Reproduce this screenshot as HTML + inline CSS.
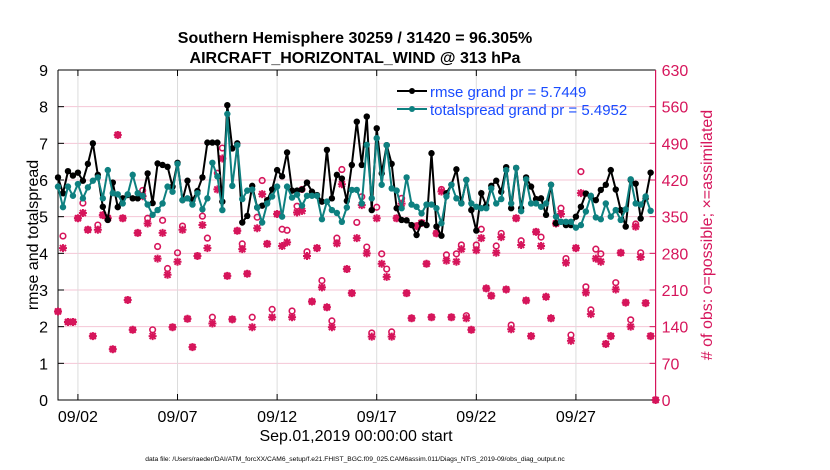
<!DOCTYPE html>
<html><head><meta charset="utf-8"><style>
html,body{margin:0;padding:0;background:#fff;}
svg{display:block;font-family:"Liberation Sans",Arial,sans-serif;}
</style></head><body>
<svg id="chart" width="830" height="470" viewBox="0 0 830 470">
<g id="grid"></g>
<g id="axes"></g>
<g id="obs"></g>
<g id="lines"></g>
<text x="355" y="43" text-anchor="middle" font-size="16" font-weight="bold">Southern Hemisphere 30259 / 31420 = 96.305%</text>
<text x="355" y="63" text-anchor="middle" font-size="16" font-weight="bold">AIRCRAFT_HORIZONTAL_WIND @ 313 hPa</text>
<text transform="translate(38,235) rotate(-90)" text-anchor="middle" font-size="16">rmse and totalspread</text>
<text transform="translate(712,235) rotate(-90)" text-anchor="middle" font-size="16" fill="#d6155b"># of obs: o=possible; ×=assimilated</text>
<text x="356" y="441" text-anchor="middle" font-size="16">Sep.01,2019 00:00:00 start</text>
<text x="355" y="461" text-anchor="middle" font-size="6.7">data file: /Users/raeder/DAI/ATM_forcXX/CAM6_setup/f.e21.FHIST_BGC.f09_025.CAM6assim.011/Diags_NTrS_2019-09/obs_diag_output.nc</text>
<g>
<line x1="397" y1="91" x2="427" y2="91" stroke="#000" stroke-width="2"/>
<circle cx="412" cy="91" r="3" fill="#000"/>
<text x="430" y="97" font-size="15" fill="#1a4cff">rmse grand pr = 5.7449</text>
<line x1="397" y1="109" x2="427" y2="109" stroke="#0e8080" stroke-width="2"/>
<circle cx="412" cy="109" r="3" fill="#0e8080"/>
<text x="430" y="115" font-size="15" fill="#1a4cff">totalspread grand pr = 5.4952</text>
</g>
</svg>
<script>
const rmse=[6.07,5.64,6.24,6.12,6.2,5.98,6.44,7.0,6.14,5.27,4.91,5.93,5.26,5.5,5.59,5.5,5.5,5.57,6.18,5.37,6.45,6.41,6.36,5.82,6.47,5.45,5.98,5.45,5.7,6.07,
7.02,7.02,7.02,5.41,8.04,6.86,7.0,4.84,5.02,5.84,5.25,5.3,5.45,5.74,6.27,6.1,6.75,5.71,5.71,5.74,5.93,5.68,5.59,5.41,6.82,5.5,6.14,6.04,5.43,6.41,
7.59,6.41,7.73,5.18,7.41,6.18,6.95,6.44,5.23,4.91,4.9,4.77,4.5,4.82,4.77,6.73,4.73,4.48,5.64,5.87,6.29,5.37,6.0,5.18,4.62,5.64,5.3,5.84,5.98,5.68,
6.35,5.23,6.33,5.23,6.07,5.82,5.48,5.5,5.05,5.87,4.82,4.86,4.77,4.77,5.0,5.27,5.63,5.55,5.45,5.73,5.87,6.27,5.74,5.18,4.73,6.0,5.9,4.95,5.5,6.2];
const spread=[5.82,5.26,5.82,5.57,5.89,5.5,5.8,5.98,6.07,5.5,6.27,5.64,5.61,5.36,5.61,6.14,5.64,5.57,5.33,5.05,5.18,5.36,5.82,5.68,6.44,5.45,5.5,5.33,5.64,5.2,
5.5,6.47,6.1,5.18,7.8,5.84,6.95,5.48,5.71,5.74,5.25,4.84,5.36,5.55,5.82,5.0,5.82,5.52,5.6,5.3,5.57,5.57,5.57,4.93,5.41,5.18,5.1,4.86,5.25,5.73,
5.73,5.36,6.96,5.5,7.14,5.87,6.95,5.77,5.71,5.23,6.07,5.33,5.27,5.09,5.33,5.33,5.23,4.82,5.55,5.87,5.5,5.36,6.0,5.36,5.27,5.23,5.23,5.77,5.36,5.48,
6.27,5.36,6.33,5.15,6.02,5.36,5.36,5.27,5.36,5.87,5.0,4.86,4.86,4.86,4.7,4.77,5.14,5.57,4.98,4.93,5.36,5.0,5.18,4.91,5.2,6.02,5.36,5.33,5.55,5.16];
const possible=[169,313,149,149,347,376,325,122,334,353,347,97,506,347,191,134,319,400,347,134,293,343,251,139,281,332,155,101,275,351,
309,158,433,481,237,154,323,298,241,158,349,419,298,173,355,326,324,170,370,402,283,188,290,228,177,151,309,440,250,204,
339,388,292,128,368,279,250,130,347,385,204,156,332,338,260,158,318,402,277,158,279,296,161,134,296,326,213,199,294,318,
211,143,347,304,190,122,321,311,197,156,337,366,270,124,290,436,216,172,288,279,107,122,224,281,186,153,336,281,185,122,0];
const assimilated=[169,290,149,149,347,357,325,122,325,353,347,97,506,347,191,134,319,389,337,122,270,319,239,139,264,325,155,101,275,334,
290,146,402,461,237,154,323,288,241,139,328,393,298,158,355,294,301,158,358,361,275,188,290,215,177,139,299,412,250,204,
309,372,280,121,347,260,235,121,347,375,204,156,332,338,260,158,318,398,266,158,264,288,156,134,286,309,213,199,281,311,
211,135,347,296,190,122,321,294,197,156,337,355,262,113,290,395,205,164,270,264,107,122,211,281,186,140,331,273,185,122,0];
const leftTicks=[0,1,2,3,4,5,6,7,8,9];
const rightTicks=[0,70,140,210,280,350,420,490,560,630];
const dateLabels=["09/02","09/07","09/12","09/17","09/22","09/27"];
const dateIdx=[4,24,44,64,84,104];

const NS="http://www.w3.org/2000/svg";
const L=58,R=655.6,T=70,B=400;
const xS=i=>L+i*(R-L)/120;
const yS=v=>B-v*(B-T)/9;
const yR=n=>B-n*(B-T)/630;
function mk(tag,attrs,parent){const e=document.createElementNS(NS,tag);for(const k in attrs)e.setAttribute(k,attrs[k]);parent.appendChild(e);return e;}
const grid=document.getElementById('grid'),axes=document.getElementById('axes'),obs=document.getElementById('obs'),lines=document.getElementById('lines');

rightTicks.forEach(t=>{const y=yR(t);
 const g=mk('line',{x1:L,x2:R,y1:y,y2:y,stroke:'#f5c6d6','stroke-width':1},grid);
 
 
 const tk=mk('line',{x1:R-6,x2:R,y1:y,y2:y,stroke:'#d6155b','stroke-width':1},axes);
 
 
 const tx=mk('text',{x:R+6,y:y+6,'font-size':16,fill:'#d6155b'},axes);tx.textContent=t;
 
 
});
dateIdx.forEach((d,k)=>{const x=xS(d);
 const g=mk('line',{x1:x,x2:x,y1:T,y2:B,stroke:'#dcdcdc','stroke-width':1},grid);
 
 
 const tb=mk('line',{x1:x,x2:x,y1:B,y2:B-6,stroke:'#000'},axes);
 
 
 const tt=mk('line',{x1:x,x2:x,y1:T,y2:T+6,stroke:'#000'},axes);
 
 
 const tx=mk('text',{x:x,y:B+22,'font-size':16,'text-anchor':'middle'},axes);tx.textContent=dateLabels[k];
 
 
});
leftTicks.forEach(t=>{const y=yS(t);
 const tk=mk('line',{x1:L,x2:L+6,y1:y,y2:y,stroke:'#000'},axes);
 
 
 const tx=mk('text',{x:L-10,y:y+6,'font-size':16,'text-anchor':'end'},axes);tx.textContent=t;
 
 
});
const bl=mk('path',{d:`M${L},${T}V${B}H${R}M${L},${T}H${R}`,stroke:'#000',fill:'none','stroke-width':1},axes);


const ra=mk('line',{x1:R,x2:R,y1:T,y2:B,stroke:'#d6155b','stroke-width':1.2},axes);



const MC='#d6155b';
possible.forEach((n,i)=>{
 const c=mk('circle',{cx:xS(i),cy:yR(n),r:2.8,fill:'none',stroke:MC,'stroke-width':1.6},obs);
 
 
});
assimilated.forEach((n,i)=>{
 const x=xS(i),y=yR(n),s=4;
 const p=mk('path',{d:`M${x-s},${y}H${x+s}M${x},${y-s}V${y+s}M${x-3},${y-3}L${x+3},${y+3}M${x-3},${y+3}L${x+3},${y-3}`,stroke:MC,'stroke-width':2},obs);
 
 
});
function series(vals,color,name){
 const d=vals.map((v,i)=>(i?'L':'M')+xS(i).toFixed(1)+','+yS(v).toFixed(1)).join('');
 const p=mk('path',{d:d,stroke:color,fill:'none','stroke-width':2},lines);
 
 
 vals.forEach((v,i)=>{
  const c=mk('circle',{cx:xS(i),cy:yS(v),r:3.2,fill:color},lines);
  
  
 });
}
series(rmse,'#000','rmse');
series(spread,'#0e8080','totalspread');
</script>
</body></html>
